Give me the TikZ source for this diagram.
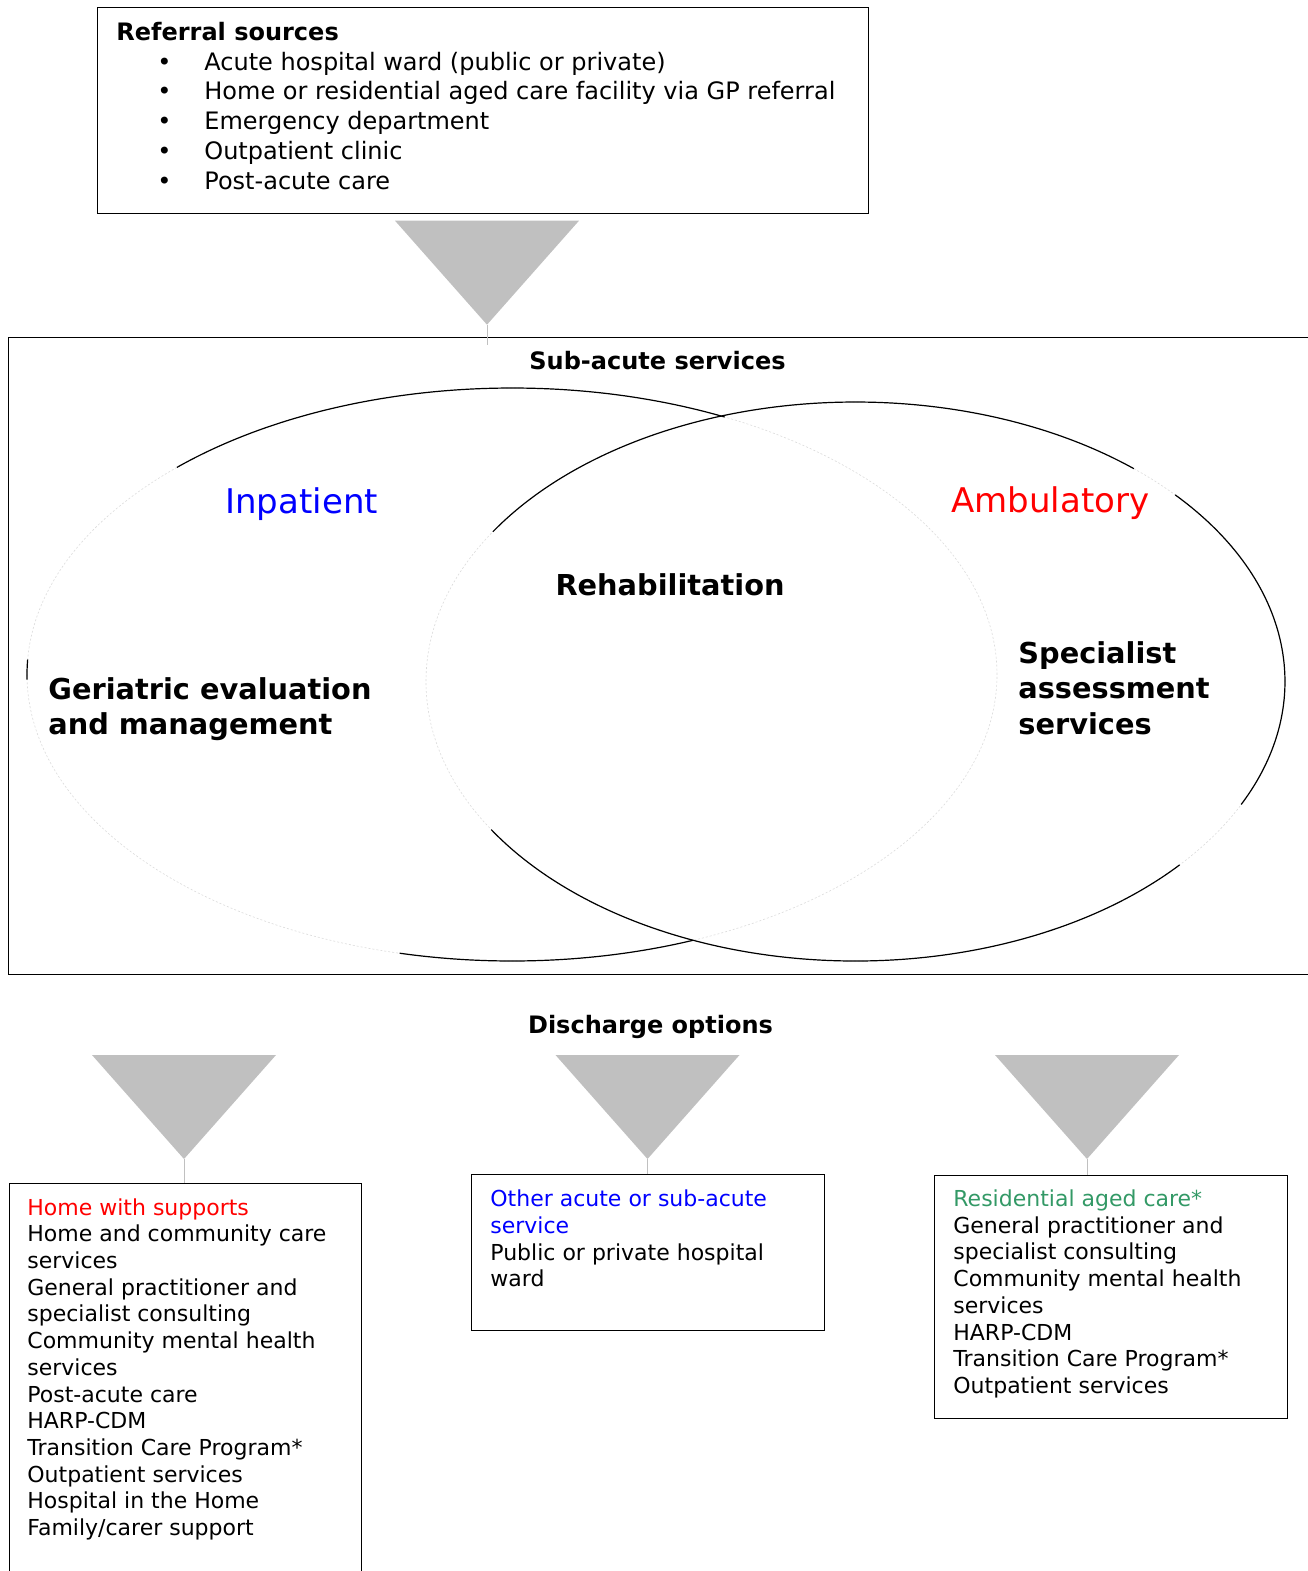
\documentclass[tikz,border=0pt]{standalone}
\usepackage{fontspec}
\setmainfont{DejaVu Sans}
\definecolor{funnelgray}{HTML}{C0C0C0}
\definecolor{seagreen}{RGB}{51,153,102}
\begin{document}
\begin{tikzpicture}[x=0.5pt, y=0.5pt]

      \tikzset{box/.style={draw, line width=0.7pt, inner sep=0pt, anchor=north west},
               head/.style={font=\fontsize{12}{14.85}\selectfont\bfseries, anchor=base, inner sep=0pt},
               bodytext/.style={font=\fontsize{12}{14.85}\selectfont, align=left, anchor=base west, inner sep=0pt},
               listtext/.style={font=\fontsize{11}{13.35}\selectfont, align=left, anchor=base west, inner sep=0pt},
               bigtext/.style={font=\fontsize{14.4}{17.75}\selectfont\bfseries, align=left, anchor=base west, inner sep=0pt},
               kind/.style={font=\fontsize{17}{20}\selectfont, anchor=base west, inner sep=0pt},
               ring/.style={line width=0.6pt},
               faint/.style={draw=black!14, line width=0.3pt, dash pattern=on 1pt off 1pt},
               stem/.style={draw=funnelgray, line width=0.5pt},
               funnel/.pic={\fill[funnelgray] (-92,0) -- (92,0) -- (0,-104) -- cycle;
                            \coordinate (-tip) at (0,-104);}}
      \useasboundingbox (0,0) rectangle (1308,-1571);
%% Boxes
      	\node[box, minimum width=385.75pt, minimum height=103.25pt] (referral) at (96.5,-6.5) {};
      	\node[box, minimum width=660pt, minimum height=318.5pt] (subacute) at (8,-337) {};
      	\node[box, minimum width=176.25pt, minimum height=215pt] (home) at (8.5,-1183) {};
      	\node[box, minimum width=176.5pt, minimum height=78pt] (other) at (471,-1174) {};
      	\node[box, minimum width=176.5pt, minimum height=121.35pt] (resid) at (934,-1175) {};
%% Texts (multi-line nodes sit on their last line)
      	\node[head, anchor=base west] (refhead) at (116,-40.5) {Referral sources};
      	\node[bodytext] (reflist) at (157,-189) {\makebox[23.5pt][l]{•}Acute hospital ward (public or private)\\
      	      \makebox[23.5pt][l]{•}Home or residential aged care facility via GP referral\\
      	      \makebox[23.5pt][l]{•}Emergency department\\
      	      \makebox[23.5pt][l]{•}Outpatient clinic\\
      	      \makebox[23.5pt][l]{•}Post-acute care};
      	\node[head] (subhead) at (657.5,-369.5) {Sub-acute services};
      	\node[kind, text=blue] (inpat) at (225,-513) {Inpatient};
      	\node[kind, text=red] (ambul) at (951,-512.5) {Ambulatory};
      	\node[bigtext, anchor=base] (rehab) at (670,-595) {Rehabilitation};
      	\node[bigtext] (gem) at (48,-734.5) {Geriatric evaluation\\and management};
      	\node[bigtext] (sas) at (1018,-734) {Specialist\\assessment\\services};
      	\node[head] (dishead) at (650.5,-1033) {Discharge options};
      	\node[listtext] (hometext) at (27,-1535.5) {\textcolor{red}{Home with supports}\\Home and community care\\services\\
      	      General practitioner and\\specialist consulting\\Community mental health\\services\\Post-acute care\\
      	      HARP-CDM\\Transition Care Program*\\Outpatient services\\Hospital in the Home\\Family/carer support};
      	\node[listtext] (othertext) at (490,-1286.8) {\textcolor{blue}{Other acute or sub-acute}\\\textcolor{blue}{service}\\
      	      Public or private hospital\\ward};
      	\node[listtext] (residtext) at (953,-1393.4) {\textcolor{seagreen}{Residential aged care*}\\General practitioner and\\
      	      specialist consulting\\Community mental health\\services\\HARP-CDM\\Transition Care Program*\\Outpatient services};
%% Venn
      	\coordinate (inpc) at (512,-674.5);
      	\coordinate (ambc) at (855.5,-681.5);
		\draw[faint] (inpc) ellipse [x radius=485, y radius=286.5];
		\draw[faint] (ambc) ellipse [x radius=429.5, y radius=279.5];
		\draw[ring] (inpc) ++(64:485 and 286.5) arc [start angle=64, end angle=133.7, x radius=485, y radius=286.5];
		\draw[ring] (inpc) ++(177:485 and 286.5) arc [start angle=177, end angle=181, x radius=485, y radius=286.5];
		\draw[ring] (inpc) ++(256.6:485 and 286.5) arc [start angle=256.6, end angle=291.9, x radius=485, y radius=286.5];
		\draw[ring] (ambc) ++(-26.1:429.5 and 279.5) arc [start angle=-26.1, end angle=41.9, x radius=429.5, y radius=279.5];
		\draw[ring] (ambc) ++(49.6:429.5 and 279.5) arc [start angle=49.6, end angle=147.6, x radius=429.5, y radius=279.5];
		\draw[ring] (ambc) ++(212:429.5 and 279.5) arc [start angle=212, end angle=319, x radius=429.5, y radius=279.5];
%% Funnels
      	\pic (fin) at (487,-220.7) {funnel};
      	\pic (fhome) at (184,-1055) {funnel};
      	\pic (fother) at (647.5,-1055) {funnel};
      	\pic (fresid) at (1087,-1055) {funnel};
      	\coordinate (finend) at (487,-345);
%Stems
		\path[stem] (fin-tip) edge (finend);
		\path[stem] (fhome-tip) edge (fhome-tip |- home.north);
		\path[stem] (fother-tip) edge (fother-tip |- other.north);
		\path[stem] (fresid-tip) edge (fresid-tip |- resid.north);
	\end{tikzpicture}
\end{document}
